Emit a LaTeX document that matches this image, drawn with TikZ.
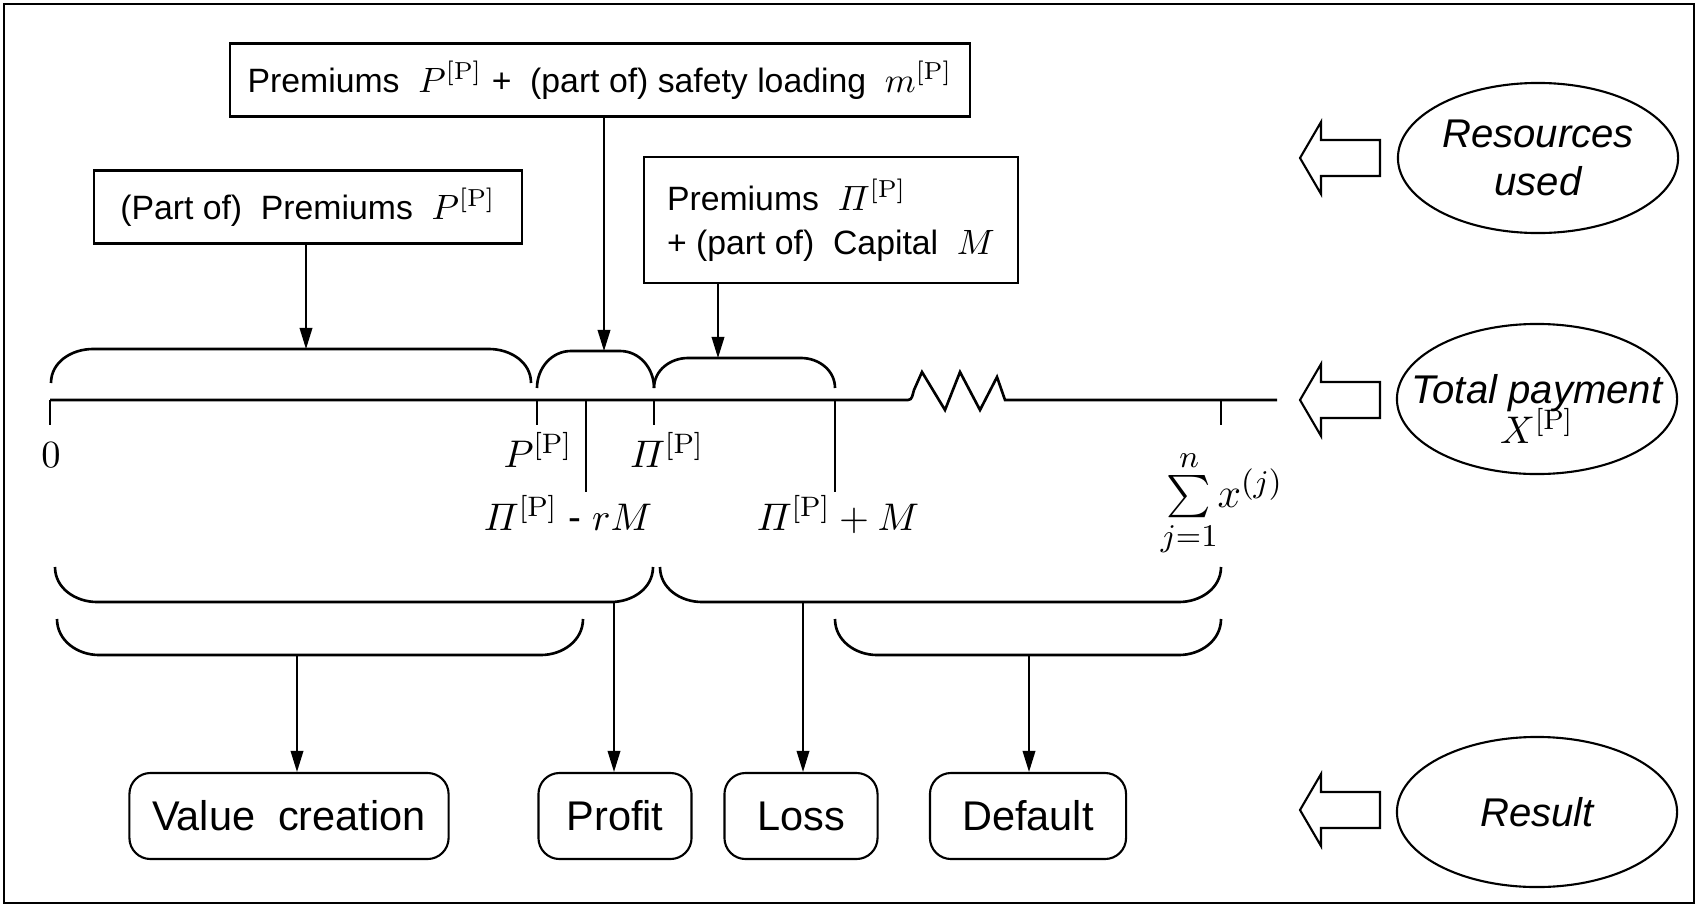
\documentclass[tikz,border=0pt]{standalone}
\usepackage[no-math]{fontspec}
\setmainfont{Liberation Sans}
\usepackage{amsmath}
\usetikzlibrary{arrows.meta,shapes.geometric}

\begin{document}
\begin{tikzpicture}[x=0.01cm, y=-0.01cm, line width=0.75pt,
    box/.style={draw, line width=0.6pt, font=\fontsize{9.6}{11.5}\selectfont, inner sep=0pt},
    result/.style={draw, line width=0.6pt, rounded corners=6pt, font=\fontsize{11.8}{13}\selectfont, minimum height=0.86cm},
    level/.style={draw, ellipse, line width=0.6pt, inner xsep=-0.35cm, inner ysep=0pt, minimum width=2.8cm, minimum height=1.5cm, font=\fontsize{11.4}{13.5}\selectfont\itshape, align=center},
    val/.style={font=\fontsize{11}{13}\selectfont, inner sep=0pt},
    arr/.style={-{Triangle[length=6pt,width=3.6pt]}, line width=0.45pt}]
	\useasboundingbox (0,0) rectangle (1697,906);
	\draw[line width=0.6pt] (4,4) rectangle (1694,903);
      % resources used
      \node (top) [box, minimum width=7.4cm, minimum height=0.73cm] at (600,80) {Premiums~ $P^{[\mathrm{P}]}$ +~ (part of) safety loading~ $m^{[\mathrm{P}]}$};
      \node (left) [box, minimum width=4.28cm, minimum height=0.73cm] at (308,207) {(Part of)~ Premiums~ $P^{[\mathrm{P}]}$};
      \node (right) [box, minimum width=3.74cm, minimum height=1.26cm, align=left] at (831,220) {Premiums~ $\varPi^{[\mathrm{P}]}$\\[1pt] + (part of)~ Capital~ $M$};
      \coordinate (b1) at (306,349);
      \coordinate (b2) at (604,351);
      \coordinate (b3) at (718,358);
      \draw (51,383) to[out=90,in=180] (93,349) -- (489,349) to[out=0,in=90] (531,383);
      \draw (537,388) to[out=90,in=180] (571,351) -- (620,351) to[out=0,in=90] (654,388);
      \draw (654,388) to[out=90,in=180] (688,358) -- (801,358) to[out=0,in=90] (835,388);
      \draw[arr] (left.south -| b1) -- (b1);
      \draw[arr] (top.south -| b2) -- (b2);
      \draw[arr] (right.south -| b3) -- (b3);
      % total payment
      \draw (50,400) -- (908,400) to[out=0,in=-110] (914,390) -- (922,372) -- (945,410) -- (960,372) -- (980,410) -- (997,377) -- (1005,400) -- (1277,400);
      \foreach \x/\l/\n in {50/425/t0, 537/425/tP, 586/492/tPrM, 654/425/tPi, 835/492/tPiM, 1221/425/tsum}
        \draw (\x,400) -- (\x,\l) coordinate (\n);
      \node (l0) [val, anchor=base] at (51,467) {$0$};
      \node (lP) [val, anchor=base] at (538,467) {$P^{[\mathrm{P}]}$};
      \node (lPi) [val, anchor=base] at (667,467) {$\varPi^{[\mathrm{P}]}$};
      \node (lPrM) [val, anchor=base] at (568,530) {$\varPi^{[\mathrm{P}]}$ - $rM$};
      \node (lPiM) [val, anchor=base] at (838,530) {$\varPi^{[\mathrm{P}]}+M$};
      \node (lsum) [val, font=\fontsize{12.5}{14}\selectfont] at (1222,503) {$\sum\limits_{j=1}^{n}\! x^{(j)}$};
      % result
      \coordinate (ba) at (614,602);
      \coordinate (bb) at (803,602);
      \coordinate (bc) at (297,655);
      \coordinate (bd) at (1029,655);
      \draw (55,567) to[out=-90,in=180] (97,602) -- (611,602) to[out=0,in=-90] (653,567);
      \draw (660,567) to[out=-90,in=180] (702,602) -- (1179,602) to[out=0,in=-90] (1221,567);
      \draw (57,619) to[out=-90,in=180] (99,655) -- (541,655) to[out=0,in=-90] (583,619);
      \draw (835,619) to[out=-90,in=180] (877,655) -- (1179,655) to[out=0,in=-90] (1221,619);
      \node (value) [result, minimum width=3.19cm] at (289,816) {Value~ creation};
      \node (profit) [result, minimum width=1.53cm] at (615,816) {Profit};
      \node (loss) [result, minimum width=1.53cm] at (801,816) {Loss};
      \node (default) [result, minimum width=1.96cm] at (1028,816) {Default};
      \draw[arr] (bc) -- (bc |- value.north);
      \draw[arr] (ba) -- (ba |- profit.north);
      \draw[arr] (bb) -- (bb |- loss.north);
      \draw[arr] (bd) -- (bd |- default.north);
      % levels
      \node (resources) [level] at (1538,158) {Resources\\used};
      \node (payment) [level] at (1537,399) {\rule{0pt}{14pt}Total payment\\[-2pt]$X^{[\mathrm{P}]}$};
      \node (outcome) [level] at (1537,812) {Result};
      \foreach \y in {158,400,810}
        \draw[line width=0.6pt] (1380,\y-18) -- (1321,\y-18) -- (1321,\y-36) -- (1300,\y) -- (1321,\y+36) -- (1321,\y+18) -- (1380,\y+18) -- cycle;
    \end{tikzpicture}
\end{document}
